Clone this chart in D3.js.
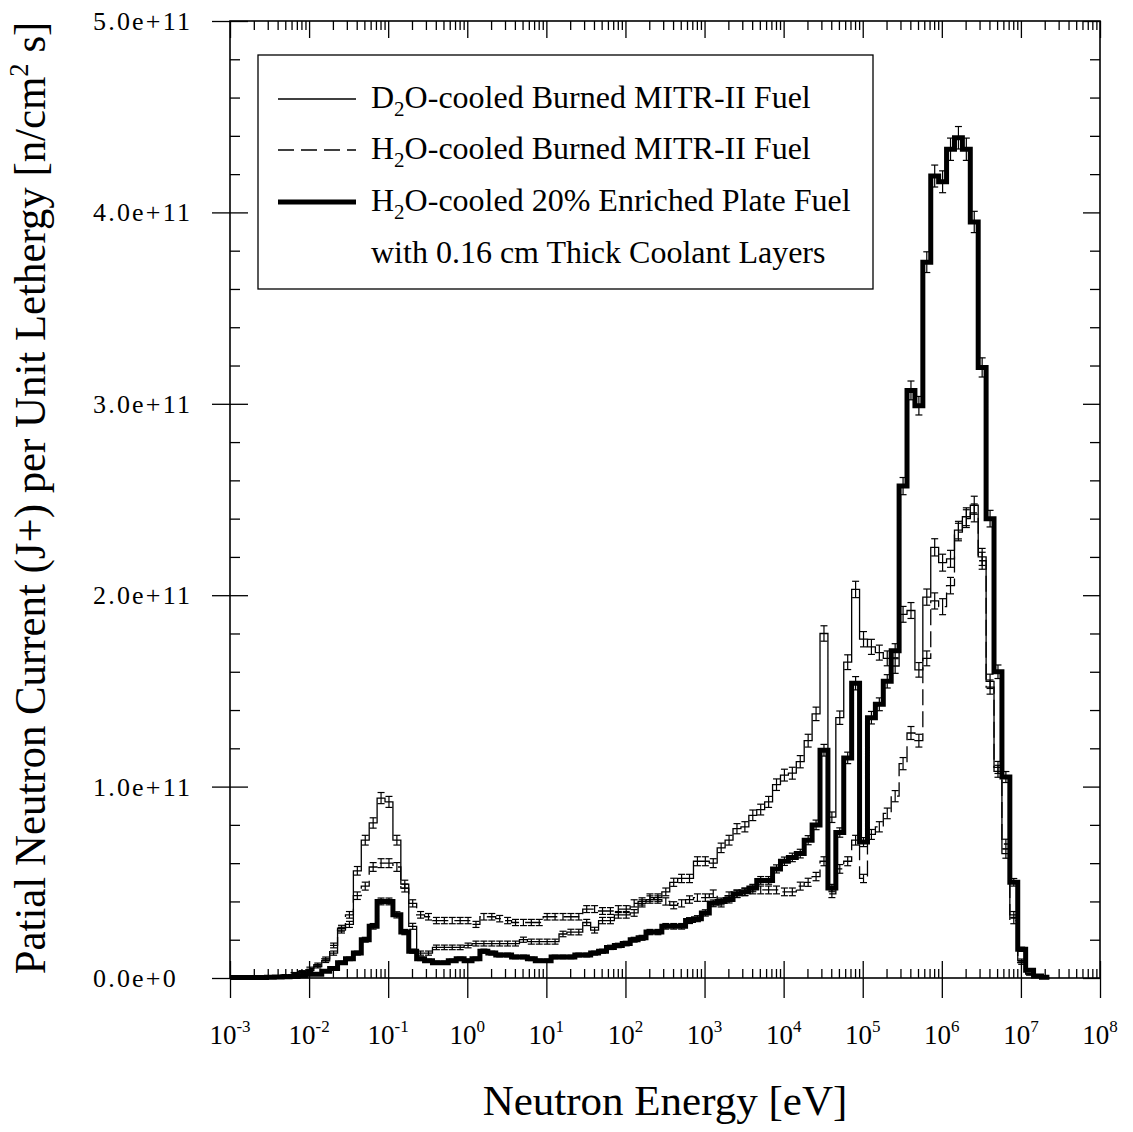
<!DOCTYPE html>
<html>
<head>
<meta charset="utf-8">
<script src="https://cdn.jsdelivr.net/npm/d3@7"></script>
<style>
  html, body { margin: 0; padding: 0; background: #fff; }
  svg { display: block; }
  text { font-family: "Liberation Serif", "Times New Roman", serif; fill: #000; }
</style>
</head>
<body>
<svg id="chart" width="1133" height="1132"></svg>
<script>
// Energy group boundaries, log10(E / eV)
const edgeExponents = [
  -3.00, -2.94, -2.84, -2.74, -2.64, -2.54, -2.44, -2.34, -2.24, -2.14,
  -2.04, -1.94, -1.84, -1.74, -1.64, -1.54, -1.44, -1.34, -1.24, -1.14,
  -1.04, -0.94, -0.84, -0.74, -0.64, -0.54, -0.44, -0.34, -0.24, -0.14,
  -0.04,  0.06,  0.16,  0.26,  0.36,  0.46,  0.56,  0.66,  0.76,  0.86,
   0.96,  1.06,  1.16,  1.26,  1.36,  1.46,  1.56,  1.66,  1.76,  1.86,
   1.96,  2.06,  2.16,  2.26,  2.36,  2.46,  2.56,  2.66,  2.76,  2.86,
   2.96,  3.06,  3.16,  3.26,  3.36,  3.46,  3.56,  3.66,  3.76,  3.86,
   3.96,  4.06,  4.16,  4.26,  4.36,  4.46,  4.56,  4.66,  4.76,  4.86,
   4.96,  5.06,  5.16,  5.26,  5.36,  5.46,  5.56,  5.66,  5.76,  5.86,
   5.96,  6.06,  6.16,  6.26,  6.36,  6.46,  6.56,  6.66,  6.76,  6.86,
   6.96,  7.06,  7.16,  7.26,  7.36
];

// Partial current J+ per unit lethargy in each group, units of 1e11 n/cm^2 s
const d2oBurned = [
  0.003, 0.003, 0.004, 0.005, 0.006, 0.008, 0.010, 0.013, 0.018, 0.025,
  0.04, 0.06, 0.09, 0.13, 0.25, 0.28, 0.56, 0.72, 0.81, 0.94,
  0.92, 0.72, 0.49, 0.27, 0.13, 0.13, 0.16, 0.16, 0.16, 0.16,
  0.17, 0.18, 0.18, 0.18, 0.18, 0.18, 0.18, 0.20, 0.19, 0.19,
  0.19, 0.19, 0.23, 0.24, 0.24, 0.29, 0.25, 0.30, 0.30, 0.33,
  0.33, 0.34, 0.39, 0.41, 0.42, 0.45, 0.50, 0.52, 0.52, 0.61,
  0.61, 0.60, 0.68, 0.72, 0.78, 0.79, 0.85, 0.88, 0.92, 1.01,
  1.06, 1.07, 1.13, 1.24, 1.38, 1.80, 0.84, 1.36, 1.65, 2.03,
  1.77, 1.73, 1.70, 1.67, 1.63, 1.90, 1.92, 1.61, 1.99, 2.25,
  2.17, 2.19, 2.34, 2.41, 2.47, 2.20, 1.55, 1.08, 0.65, 0.33,
  0.09, 0.02, 0.005, 0.001
];

const h2oBurned = [
  0.003, 0.003, 0.004, 0.005, 0.007, 0.009, 0.012, 0.017, 0.024, 0.033,
  0.05, 0.07, 0.10, 0.17, 0.26, 0.33, 0.43, 0.48, 0.58, 0.60,
  0.60, 0.58, 0.47, 0.39, 0.33, 0.32, 0.30, 0.30, 0.30, 0.30,
  0.30, 0.28, 0.32, 0.32, 0.31, 0.30, 0.29, 0.29, 0.29, 0.29,
  0.32, 0.32, 0.32, 0.32, 0.32, 0.36, 0.36, 0.35, 0.35, 0.36,
  0.36, 0.39, 0.40, 0.42, 0.41, 0.40, 0.38, 0.39, 0.41, 0.42,
  0.42, 0.44, 0.39, 0.43, 0.44, 0.45, 0.46, 0.46, 0.46, 0.46,
  0.45, 0.45, 0.48, 0.50, 0.53, 0.61, 0.44, 0.57, 0.61, 0.72,
  0.52, 0.75, 0.79, 0.86, 0.95, 1.12, 1.28, 1.24, 1.67, 1.97,
  1.94, 2.05, 2.33, 2.40, 2.43, 2.18, 1.52, 1.10, 0.70, 0.30,
  0.08, 0.02, 0.005, 0.001
];

const h2oPlate = [
  0.002, 0.002, 0.002, 0.003, 0.003, 0.004, 0.005, 0.006, 0.008, 0.012,
  0.02, 0.02, 0.035, 0.05, 0.08, 0.10, 0.13, 0.20, 0.27, 0.40,
  0.40, 0.33, 0.24, 0.14, 0.10, 0.09, 0.08, 0.08, 0.09, 0.10,
  0.09, 0.10, 0.14, 0.13, 0.12, 0.12, 0.11, 0.11, 0.10, 0.09,
  0.09, 0.11, 0.11, 0.11, 0.12, 0.12, 0.13, 0.14, 0.16, 0.17,
  0.18, 0.20, 0.21, 0.24, 0.24, 0.27, 0.27, 0.27, 0.30, 0.31,
  0.34, 0.39, 0.40, 0.41, 0.44, 0.45, 0.47, 0.51, 0.51, 0.57,
  0.61, 0.63, 0.65, 0.72, 0.80, 1.19, 0.47, 0.76, 1.15, 1.54,
  0.71, 1.36, 1.43, 1.55, 1.71, 2.57, 3.07, 2.99, 3.74, 4.19,
  4.16, 4.33, 4.39, 4.33, 3.95, 3.19, 2.40, 1.60, 1.05, 0.50,
  0.15, 0.04, 0.01, 0.004
];

const FLUX_UNIT = 1e11;

// Monte Carlo tally uncertainty coefficient: sigma = k * sqrt(J) (J in 1e11 units)
const sigmaCoef = { d2o: 0.03, h2o: 0.03, plate: 0.028 };

const decadeExponents = [-3, -2, -1, 0, 1, 2, 3, 4, 5, 6, 7, 8];
const fluxTicks = [0, 1e11, 2e11, 3e11, 4e11, 5e11];
const fluxTickLabels = ["0.0e+0", "1.0e+11", "2.0e+11", "3.0e+11", "4.0e+11", "5.0e+11"];

const legendLabels = [
  { main: "D", sub: "2", rest: "O-cooled Burned MITR-II Fuel" },
  { main: "H", sub: "2", rest: "O-cooled Burned MITR-II Fuel" },
  { main: "H", sub: "2", rest: "O-cooled 20% Enriched Plate Fuel" }
];
const legendExtraLine = "with 0.16 cm Thick Coolant Layers";

const xTitle = "Neutron Energy [eV]";
const yTitleParts = ["Patial Neutron Current (J+) per Unit Lethergy [n/cm", "2", " s]"];

(function draw() {
  // ---- layout ----
  const plotL = 230, plotR = 1100, plotT = 21, plotB = 978;

  const svg = d3.select("#chart");
  const x = d3.scaleLog().domain([1e-3, 1e8]).range([plotL, plotR]);
  const y = d3.scaleLinear().domain([0, 5e11]).range([plotB, plotT]);

  const edges = edgeExponents.map(e => Math.pow(10, e));

  // ---- axes ----
  const minorX = [];
  decadeExponents.slice(0, -1).forEach(e => {
    for (let m = 2; m <= 9; m++) minorX.push(m * Math.pow(10, e));
  });
  const majorX = decadeExponents.map(e => Math.pow(10, e));
  const minorY = [];
  for (let i = 1; i < 25; i++) if (i % 5 !== 0) minorY.push(i * 0.2e11);

  function styleAxis(g) {
    g.select(".domain").remove();
    g.selectAll(".tick line").attr("stroke", "#000").attr("stroke-width", 1.3);
    g.selectAll(".tick text").remove();
  }

  const axes = svg.append("g");
  // bottom
  axes.append("g").attr("transform", `translate(0,${plotB})`)
    .call(d3.axisBottom(x).tickValues(majorX).tickSize(20).tickSizeOuter(0)).call(styleAxis);
  axes.append("g").attr("transform", `translate(0,${plotB})`)
    .call(d3.axisBottom(x).tickValues(majorX).tickSize(-17).tickSizeOuter(0)).call(styleAxis);
  axes.append("g").attr("transform", `translate(0,${plotB})`)
    .call(d3.axisBottom(x).tickValues(minorX).tickSize(-9).tickSizeOuter(0)).call(styleAxis);
  // top
  axes.append("g").attr("transform", `translate(0,${plotT})`)
    .call(d3.axisTop(x).tickValues(majorX).tickSize(-17).tickSizeOuter(0)).call(styleAxis);
  axes.append("g").attr("transform", `translate(0,${plotT})`)
    .call(d3.axisTop(x).tickValues(minorX).tickSize(-9).tickSizeOuter(0)).call(styleAxis);
  // left
  axes.append("g").attr("transform", `translate(${plotL},0)`)
    .call(d3.axisLeft(y).tickValues(fluxTicks).tickSize(18).tickSizeOuter(0)).call(styleAxis);
  axes.append("g").attr("transform", `translate(${plotL},0)`)
    .call(d3.axisLeft(y).tickValues(fluxTicks).tickSize(-18).tickSizeOuter(0)).call(styleAxis);
  axes.append("g").attr("transform", `translate(${plotL},0)`)
    .call(d3.axisLeft(y).tickValues(minorY).tickSize(-10).tickSizeOuter(0)).call(styleAxis);
  // right
  axes.append("g").attr("transform", `translate(${plotR},0)`)
    .call(d3.axisRight(y).tickValues(fluxTicks).tickSize(-17).tickSizeOuter(0)).call(styleAxis);
  axes.append("g").attr("transform", `translate(${plotR},0)`)
    .call(d3.axisRight(y).tickValues(minorY).tickSize(-10).tickSizeOuter(0)).call(styleAxis);

  // frame
  svg.append("rect")
    .attr("x", plotL).attr("y", plotT)
    .attr("width", plotR - plotL).attr("height", plotB - plotT)
    .attr("fill", "none").attr("stroke", "#000").attr("stroke-width", 1.6);

  // x tick labels 10^n
  const xLab = svg.append("g");
  decadeExponents.forEach(e => {
    const t = xLab.append("text")
      .attr("x", x(Math.pow(10, e))).attr("y", 1044)
      .attr("text-anchor", "middle").style("font-size", "27px");
    t.append("tspan").text("10");
    t.append("tspan").attr("dy", -12).style("font-size", "17px").text(String(e));
  });

  // y tick labels
  svg.append("g").selectAll("text").data(fluxTicks).join("text")
    .attr("x", 93).attr("y", d => y(d) + 9)
    .style("font-size", "26px").style("letter-spacing", "2.2px")
    .text((d, i) => fluxTickLabels[i]);

  // ---- series ----
  const plot = svg.append("g");

  function drawSeries(values, opts) {
    const pts = edges.map((e, i) => [e, values[Math.min(i, values.length - 1)]]);
    const line = d3.line()
      .x(d => x(d[0]))
      .y(d => y(d[1] * FLUX_UNIT))
      .curve(d3.curveStepAfter);
    plot.append("path")
      .attr("d", line(pts))
      .attr("fill", "none")
      .attr("stroke", "#000")
      .attr("stroke-width", opts.width)
      .attr("stroke-linejoin", "miter")
      .attr("stroke-dasharray", opts.dash || null);

    // error bars at group midpoints
    const bars = plot.append("g").attr("stroke", "#000").attr("stroke-width", 1.2);
    values.forEach((v, i) => {
      if (v < 0.02) return;
      const cx = x(Math.sqrt(edges[i] * edges[i + 1]));
      const s = opts.sigma * Math.sqrt(v);
      const y1 = y((v + s) * FLUX_UNIT), y2 = y((v - s) * FLUX_UNIT);
      bars.append("line").attr("x1", cx).attr("x2", cx).attr("y1", y1).attr("y2", y2);
      bars.append("line").attr("x1", cx - 3.5).attr("x2", cx + 3.5).attr("y1", y1).attr("y2", y1);
      bars.append("line").attr("x1", cx - 3.5).attr("x2", cx + 3.5).attr("y1", y2).attr("y2", y2);
    });
  }

  drawSeries(h2oPlate, { width: 5, sigma: sigmaCoef.plate });
  drawSeries(h2oBurned, { width: 1.3, dash: "16,6", sigma: sigmaCoef.h2o });
  drawSeries(d2oBurned, { width: 1.3, sigma: sigmaCoef.d2o });

  // ---- legend ----
  const lg = svg.append("g");
  lg.append("rect").attr("x", 258).attr("y", 55).attr("width", 615).attr("height", 234)
    .attr("fill", "#fff").attr("stroke", "#000").attr("stroke-width", 1.3);

  const legendStyles = [
    { width: 1.3, dash: null },
    { width: 1.3, dash: "16,7" },
    { width: 5, dash: null }
  ];
  const rowBase = [108, 159, 211];
  legendLabels.forEach((lab, i) => {
    lg.append("line")
      .attr("x1", 278).attr("x2", 356)
      .attr("y1", rowBase[i] - 9).attr("y2", rowBase[i] - 9)
      .attr("stroke", "#000").attr("stroke-width", legendStyles[i].width)
      .attr("stroke-dasharray", legendStyles[i].dash);
    const t = lg.append("text").attr("x", 371).attr("y", rowBase[i]).style("font-size", "32px");
    t.append("tspan").text(lab.main);
    t.append("tspan").attr("dy", 8).style("font-size", "21px").text(lab.sub);
    t.append("tspan").attr("dy", -8).text(lab.rest);
  });
  lg.append("text").attr("x", 371).attr("y", 263).style("font-size", "32px").text(legendExtraLine);

  // ---- axis titles ----
  svg.append("text")
    .attr("x", 665).attr("y", 1115)
    .attr("text-anchor", "middle").style("font-size", "43px")
    .text(xTitle);

  const yt = svg.append("g").attr("transform", "translate(45,498) rotate(-90)");
  const ytText = yt.append("text").attr("text-anchor", "middle").style("font-size", "45px");
  ytText.append("tspan").text(yTitleParts[0]);
  ytText.append("tspan").attr("dy", -17).style("font-size", "28px").text(yTitleParts[1]);
  ytText.append("tspan").attr("dy", 17).text(yTitleParts[2]);
  const natural = ytText.node().getBBox().width;
  const targetLen = 953;
  ytText.attr("transform", `scale(${targetLen / natural},1)`);
})();
</script>
</body>
</html>
